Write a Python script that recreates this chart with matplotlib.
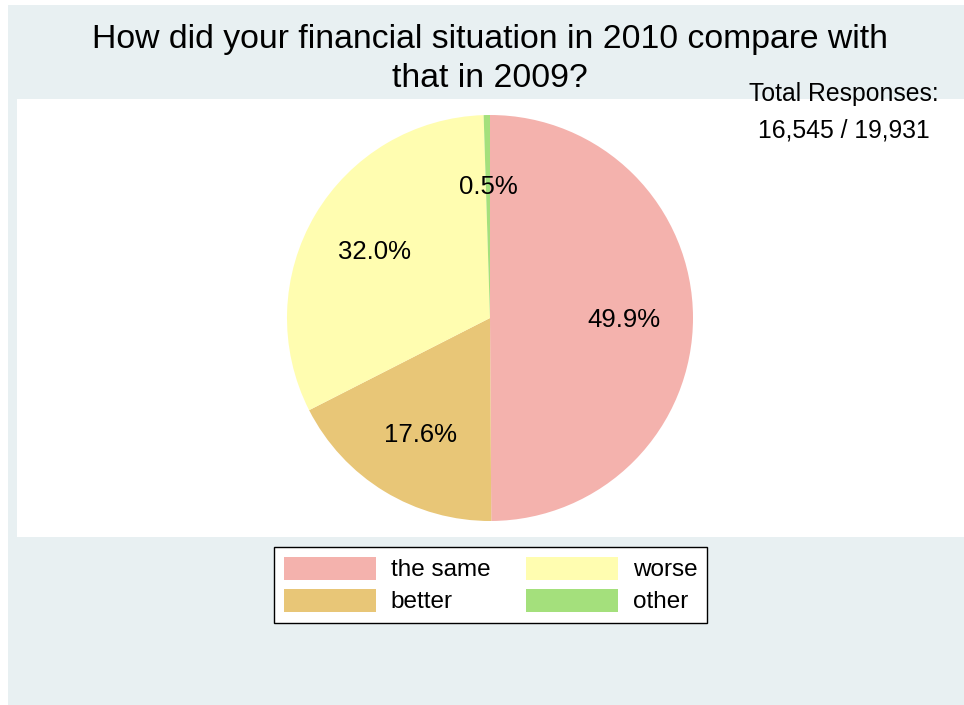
import matplotlib
matplotlib.use("Agg")
import matplotlib.pyplot as plt
from matplotlib.patches import Rectangle

plt.rcParams['font.family'] = ['Liberation Sans', 'DejaVu Sans']

# data
categories = ['the same', 'better', 'worse', 'other']
shares = [49.9, 17.6, 32.0, 0.5]
colors = ['#f4b2ad', '#e8c677', '#fffdb0', '#a4e07c']
title_lines = ['How did your financial situation in 2010 compare with',
               'that in 2009?']
note_lines = ['Total Responses:', '16,545 / 19,931']

W, H = 964, 705
fig = plt.figure(figsize=(W / 100, H / 100), dpi=100, facecolor='white')

# outer graph region and white plot region (pixel boxes)
fig.patches.append(Rectangle((8 / W, 0), 1 - 8 / W, 1 - 5 / H,
                             transform=fig.transFigure, facecolor='#e8f0f2',
                             edgecolor='none', zorder=-2))
fig.patches.append(Rectangle((17 / W, 1 - 537 / H), 1 - 17 / W, (537 - 99) / H,
                             transform=fig.transFigure, facecolor='white',
                             edgecolor='none', zorder=-1))

# pie axes: centre (490, 318), radius 203 px
cx, cy, r = 490, 318, 203
ax = fig.add_axes([(cx - r) / W, 1 - (cy + r) / H, 2 * r / W, 2 * r / H])
ax.set_zorder(1)
ax.set_facecolor('none')
wedges, texts, autotexts = ax.pie(shares, colors=colors, startangle=90,
                                  counterclock=False, autopct='%1.1f%%',
                                  pctdistance=0.66,
                                  wedgeprops=dict(linewidth=0),
                                  textprops=dict(fontsize=18.5, color='black'))
for t in autotexts:
    t.set_va('center_baseline')
ax.set_xlim(-1, 1)
ax.set_ylim(-1, 1)
ax.set_aspect('equal')

# title, two lines
for line, y in zip(title_lines, [36, 75]):
    fig.text(cx / W, 1 - y / H, line, ha='center', va='center_baseline',
             fontsize=24.3)

# total responses note
for line, y in zip(note_lines, [91, 128]):
    fig.text(844 / W, 1 - y / H, line, ha='center', va='center_baseline',
             fontsize=17.8)

leg = fig.legend(wedges, categories, loc='center',
                 bbox_to_anchor=(490.5 / W, 1 - 585 / H), ncol=2,
                 fontsize=17.5, frameon=True, fancybox=False, framealpha=1,
                 edgecolor='black', handlelength=3.8, handleheight=1.07,
                 handletextpad=0.6, columnspacing=1.45, labelspacing=0.3,
                 borderpad=0.4)
leg.get_frame().set_linewidth(1.0)
leg.get_frame().set_facecolor('white')

fig.savefig('out.png', dpi=100, facecolor='white')
